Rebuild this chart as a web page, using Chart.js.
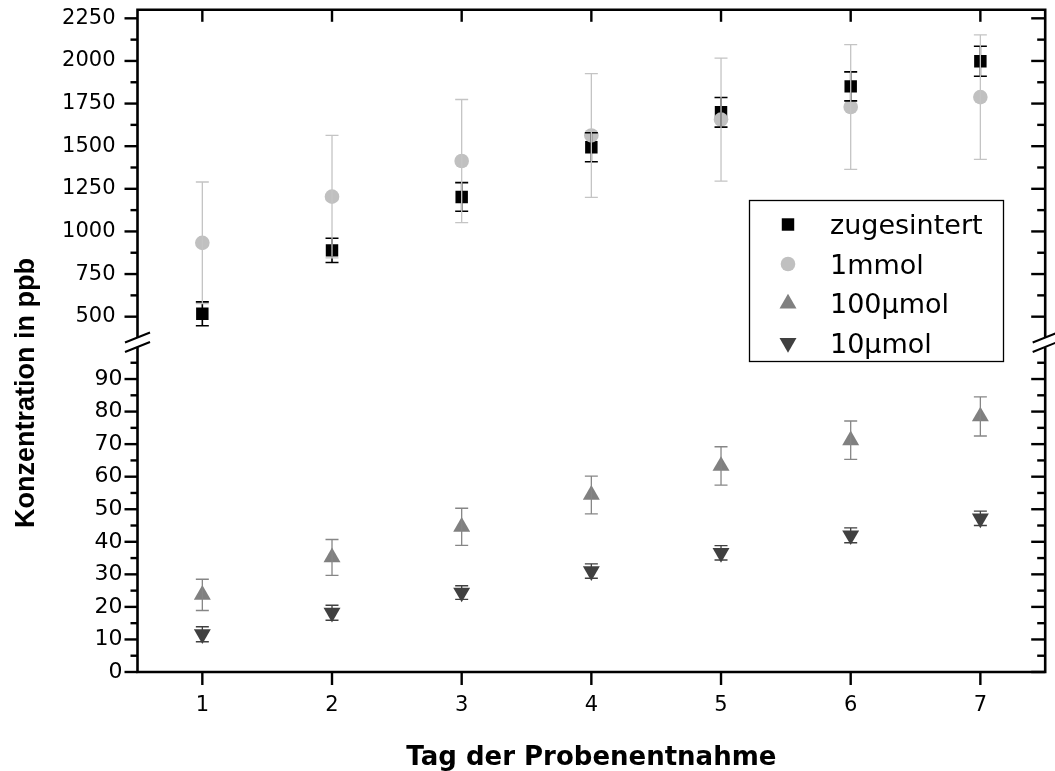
<!DOCTYPE html>
<html><head><meta charset="utf-8">
<script src="https://cdn.jsdelivr.net/npm/chart.js@4.4.1/dist/chart.umd.min.js"></script>
<style>html,body{margin:0;padding:0;background:#fff;}#wrap{width:1055px;height:771px;position:relative;}</style>
</head><body><div id="wrap"><canvas id="c" width="1055" height="771"></canvas></div>
<script>
const days = [1, 2, 3, 4, 5, 6, 7];
const dayTicks = [1, 2, 3, 4, 5, 6, 7];
const upperTicks = [500, 750, 1000, 1250, 1500, 1750, 2000, 2250];
const upperMinor = [625, 875, 1125, 1375, 1625, 1875, 2125];
const lowerTicks = [0, 10, 20, 30, 40, 50, 60, 70, 80, 90];
const lowerMinor = [5, 15, 25, 35, 45, 55, 65, 75, 85, 95];
const seriesLabels = ['zugesintert', '1mmol', '100µmol', '10µmol'];
const zugesintert = [517, 889, 1202, 1494, 1699, 1851, 1998];
const zugesintertErr = [70, 71, 84, 85, 87, 85, 88];
const mmol1 = [933, 1204, 1413, 1563, 1656, 1730, 1788];
const mmol1Err = [357, 359, 361, 363, 361, 366, 365];
const umol100 = [23.7, 35.2, 44.6, 54.4, 63.3, 71.2, 78.5];
const umol100Err = [4.8, 5.5, 5.7, 5.8, 5.9, 5.9, 6.0];
const umol10 = [11.6, 18.2, 24.4, 31.0, 36.6, 42.0, 47.2];
const umol10Err = [2.3, 2.3, 2.1, 2.2, 2.2, 2.3, 2.2];

const FONT = "'DejaVu Sans', 'Liberation Sans', sans-serif";
Chart.defaults.font.family = FONT;
const mk = vals => days.map((d, i) => ({x: d, y: vals[i]}));

const datasets = [
  {label: seriesLabels[0], data: mk(zugesintert), err: zugesintertErr, yAxisID: 'yHigh', order: 4,
   pointStyle: 'rect', pointRadius: 8.8, pointRotation: 0, backgroundColor: '#000000', borderColor: '#000000',
   errColor: '#000000', errWidth: 1.6},
  {label: seriesLabels[1], data: mk(mmol1), err: mmol1Err, yAxisID: 'yHigh', order: 3,
   pointStyle: 'circle', pointRadius: 7.3, pointRotation: 0, backgroundColor: '#c0c0c0', borderColor: '#c0c0c0',
   errColor: '#c4c4c4', errWidth: 1.3},
  {label: seriesLabels[2], data: mk(umol100), err: umol100Err, yAxisID: 'yLow', order: 2,
   pointStyle: 'triangle', pointRadius: 9.8, pointRotation: 0, backgroundColor: '#808080', borderColor: '#808080',
   errColor: '#868686', errWidth: 1.3},
  {label: seriesLabels[3], data: mk(umol10), err: umol10Err, yAxisID: 'yLow', order: 1,
   pointStyle: 'triangle', pointRadius: 9.8, pointRotation: 180, backgroundColor: '#404040', borderColor: '#404040',
   errColor: '#404040', errWidth: 1.3}
];
datasets.forEach(d => { d.pointBorderWidth = 0; d.pointHoverRadius = d.pointRadius; d.pointBackgroundColor = d.backgroundColor; });

const errBars = {
  id: 'errBars',
  afterDatasetsDraw(chart) {
    const ctx = chart.ctx, xs = chart.scales.x;
    chart.data.datasets.forEach(ds => {
      const ys = chart.scales[ds.yAxisID];
      ctx.save();
      ctx.strokeStyle = ds.errColor; ctx.lineWidth = ds.errWidth;
      ds.data.forEach((p, j) => {
        const e = ds.err[j];
        const x = xs.getPixelForValue(p.x);
        const yt = ys.getPixelForValue(p.y + e), yb = ys.getPixelForValue(p.y - e);
        ctx.beginPath();
        ctx.moveTo(x, yt); ctx.lineTo(x, yb);
        ctx.moveTo(x - 6.5, yt); ctx.lineTo(x + 6.5, yt);
        ctx.moveTo(x - 6.5, yb); ctx.lineTo(x + 6.5, yb);
        ctx.stroke();
      });
      ctx.restore();
    });
  }
};

const frame = {
  id: 'frame',
  afterDraw(chart) {
    const {ctx, chartArea: a, scales} = chart;
    const xS = scales.x, yH = scales.yHigh, yL = scales.yLow;
    ctx.save();
    ctx.strokeStyle = '#000'; ctx.lineCap = 'butt';
    const line = (x1, y1, x2, y2) => { ctx.beginPath(); ctx.moveTo(x1, y1); ctx.lineTo(x2, y2); ctx.stroke(); };
    ctx.lineWidth = 2.4;
    [[yH, upperTicks, 13, 14], [yH, upperMinor, 7, 8], [yL, lowerTicks, 13, 14], [yL, lowerMinor, 7, 8]]
      .forEach(([s, arr, lo, li]) => arr.forEach(v => {
        const y = s.getPixelForValue(v);
        line(a.left - lo, y, a.left, y);
        line(a.right, y, a.right - li, y);
      }));
    dayTicks.forEach(v => {
      const x = xS.getPixelForValue(v);
      line(x, a.bottom, x, a.bottom + 13);
      line(x, a.top, x, a.top + 12);
    });
    ctx.lineWidth = 2.6; ctx.lineJoin = 'miter';
    const brk = yH.bottom;
    ctx.beginPath();
    ctx.moveTo(a.left, brk - 5); ctx.lineTo(a.left, a.top); ctx.lineTo(a.right, a.top); ctx.lineTo(a.right, brk - 5);
    ctx.stroke();
    ctx.beginPath();
    ctx.moveTo(a.left, brk + 5); ctx.lineTo(a.left, a.bottom); ctx.lineTo(a.right, a.bottom); ctx.lineTo(a.right, brk + 5);
    ctx.stroke();
    ctx.lineWidth = 2;
    [a.left, a.right].forEach(x => {
      [-4.7, 4.7].forEach(dy => line(x - 12.5, brk + dy + 5, x + 12.5, brk + dy - 5));
    });
    ctx.restore();

    // axis titles
    ctx.save();
    ctx.fillStyle = '#000';
    ctx.font = "bold 26px 'DejaVu Sans'";
    ctx.textAlign = 'center'; ctx.textBaseline = 'alphabetic';
    ctx.fillText('Tag der Probenentnahme', (a.left + a.right) / 2, 765);
    ctx.translate(34, 393); ctx.rotate(-Math.PI / 2);
    ctx.font = "bold 27px 'Liberation Sans'";
    ctx.fillText('Konzentration in ppb', 0, 0);
    ctx.restore();

    // legend
    ctx.save();
    ctx.strokeStyle = '#000'; ctx.lineWidth = 1.3;
    ctx.fillStyle = '#fff';
    ctx.fillRect(749.5, 200.5, 254, 161);
    ctx.strokeRect(749.5, 200.5, 254, 161);
    chart.data.datasets.forEach((ds, i) => {
      const y = 224.5 + i * 39.5;
      ctx.fillStyle = ds.backgroundColor; ctx.strokeStyle = ds.borderColor;
      Chart.helpers.drawPoint(ctx, {pointStyle: ds.pointStyle, radius: ds.pointRadius, rotation: ds.pointRotation, borderWidth: 0}, 788, y);
      ctx.fillStyle = '#000';
      ctx.font = "27px 'DejaVu Sans'";
      ctx.textAlign = 'left'; ctx.textBaseline = 'alphabetic';
      ctx.fillText(ds.label, 830, y + 9.5);
    });
    ctx.restore();
  }
};

const numLabel = v => String(v);
new Chart(document.getElementById('c'), {
  type: 'scatter',
  data: {datasets},
  options: {
    responsive: false, animation: false, devicePixelRatio: 1,
    layout: {padding: {top: 9, right: 7, left: 0, bottom: 0}},
    plugins: {legend: {display: false}, tooltip: {enabled: false}},
    scales: {
      x: {type: 'linear', position: 'bottom', min: 0.5, max: 7.5,
          grid: {display: false, drawTicks: false}, border: {display: false},
          ticks: {padding: 21, color: '#000', font: {size: 21}, autoSkip: false, maxRotation: 0, callback: numLabel},
          afterBuildTicks: s => { s.ticks = dayTicks.map(v => ({value: v})); },
          afterFit: s => { s.height = 99; s.paddingLeft = 0; s.paddingRight = 0; }},
      yLow: {type: 'linear', position: 'left', stack: 'y', stackWeight: 330.1, weight: 0, min: 0, max: 101.3,
          grid: {display: false, drawTicks: false}, border: {display: false},
          ticks: {padding: 15, color: '#000', font: {size: 22}, autoSkip: false, callback: numLabel},
          afterBuildTicks: s => { s.ticks = lowerTicks.map(v => ({value: v})); },
          afterFit: s => { s.width = 137.5; s.paddingTop = 0; s.paddingBottom = 0; }},
      yHigh: {type: 'linear', position: 'left', stack: 'y', stackWeight: 332.8, weight: 1, min: 350, max: 2300,
          grid: {display: false, drawTicks: false}, border: {display: false},
          ticks: {padding: 22, color: '#000', font: {size: 21}, autoSkip: false, callback: numLabel},
          afterBuildTicks: s => { s.ticks = upperTicks.map(v => ({value: v})); },
          afterFit: s => { s.width = 137.5; s.paddingTop = 0; s.paddingBottom = 0; }}
    }
  },
  plugins: [errBars, frame]
});
</script></body></html>
